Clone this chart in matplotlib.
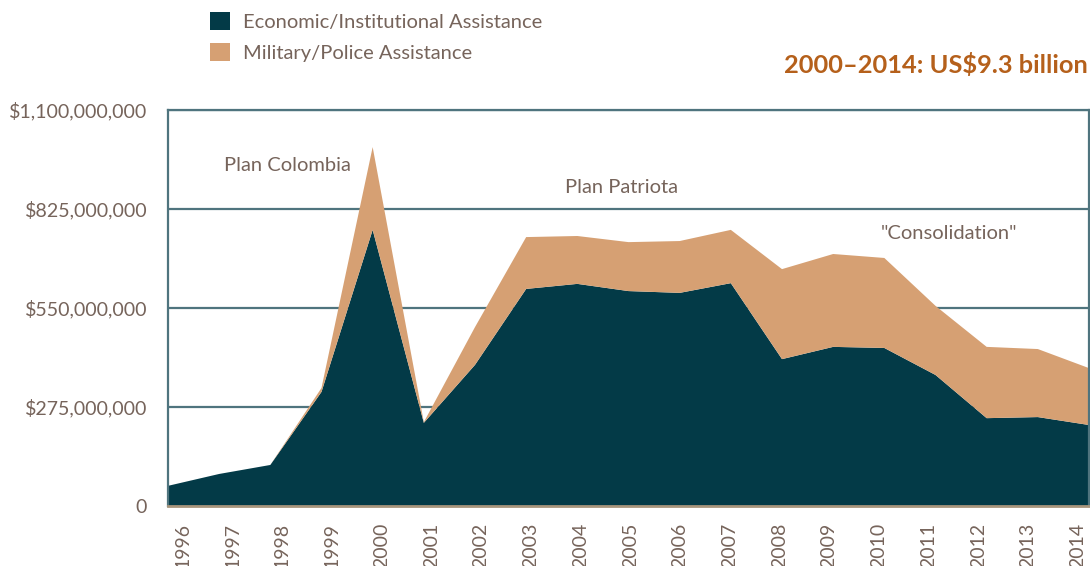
import numpy as np
import matplotlib
matplotlib.use("Agg")
import matplotlib.pyplot as plt
from matplotlib.patches import Patch

years = list(range(1996, 2015))
economic = [56e6, 89e6, 114e6, 317e6, 767e6, 231e6, 392e6, 603e6, 617e6, 597e6,
            592e6, 619e6, 408e6, 442e6, 439e6, 364e6, 244e6, 247e6, 225e6]
total = [56e6, 89e6, 114e6, 328e6, 997e6, 233e6, 497e6, 747e6, 750e6, 733e6,
         736e6, 767e6, 658e6, 700e6, 689e6, 556e6, 442e6, 436e6, 383e6]
military = [t - e for t, e in zip(total, economic)]

yticks = [0, 275e6, 550e6, 825e6, 1100e6]
ytick_labels = ["0", "$275,000,000", "$550,000,000", "$825,000,000", "$1,100,000,000"]

DARK = "#033A47"
TAN = "#D6A073"
GRID = "#4F747E"
TEXT = "#76645B"
TITLE = "#B5601B"

plt.rcParams["font.family"] = ["Lato", "DejaVu Sans"]

fig = plt.figure(figsize=(10.9, 5.66), dpi=100)
ax = fig.add_axes([168 / 1090, 60 / 566, 921 / 1090, 396 / 566])

ax.stackplot(years, economic, military, colors=[DARK, TAN], linewidth=0)

ax.set_xlim(1996, 2014)
ax.set_ylim(0, 1100e6)
ax.set_yticks(yticks)
ax.set_yticklabels(ytick_labels)
ax.yaxis.grid(True, color=GRID, linewidth=1.6)
ax.set_axisbelow(True)
ax.tick_params(axis="y", length=0, pad=15, labelsize=14.1, labelcolor=TEXT)
ax.set_xticks([])

for side in ["left", "top", "right"]:
    ax.spines[side].set_color(GRID)
    ax.spines[side].set_linewidth(1.6)
ax.spines["bottom"].set_color("#A8957C")
ax.spines["bottom"].set_linewidth(2)

# year labels sit on their own category axis below the plot
lab = ax.twiny()
lab.set_xlim(-0.30, 18.23)
lab.set_xticks(range(len(years)))
lab.set_xticklabels([str(y) for y in years], rotation=90, va="top")
lab.xaxis.set_ticks_position("bottom")
lab.xaxis.set_label_position("bottom")
lab.tick_params(axis="x", length=0, pad=12, labelsize=14, labelcolor=TEXT)
for s in lab.spines.values():
    s.set_visible(False)

ax.text(1999.57, 945e6, "Plan Colombia", ha="right", va="center",
        fontsize=14.5, color=TEXT)
ax.text(2004.87, 885e6, "Plan Patriota", ha="center", va="center",
        fontsize=14.5, color=TEXT)
ax.text(2011.26, 757e6, '"Consolidation"', ha="center", va="center",
        fontsize=14.5, color=TEXT)

fig.text(1088 / 1090, 1 - 65 / 566, "2000\u20132014: US$9.3 billion",
         ha="right", va="center", fontsize=18.3, fontweight="bold", color=TITLE)

handles = [Patch(facecolor=DARK, edgecolor="none"),
           Patch(facecolor=TAN, edgecolor="none")]
leg = fig.legend(handles, ["Economic/Institutional Assistance", "Military/Police Assistance"],
                 loc="upper left", bbox_to_anchor=(196 / 1090, 1 + 2 / 566),
                 frameon=False, fontsize=14.5, handlelength=1.0, handleheight=1.0,
                 handletextpad=0.65, labelspacing=0.6, borderpad=0.2)
for t in leg.get_texts():
    t.set_color(TEXT)

fig.savefig("out.png", dpi=100)
